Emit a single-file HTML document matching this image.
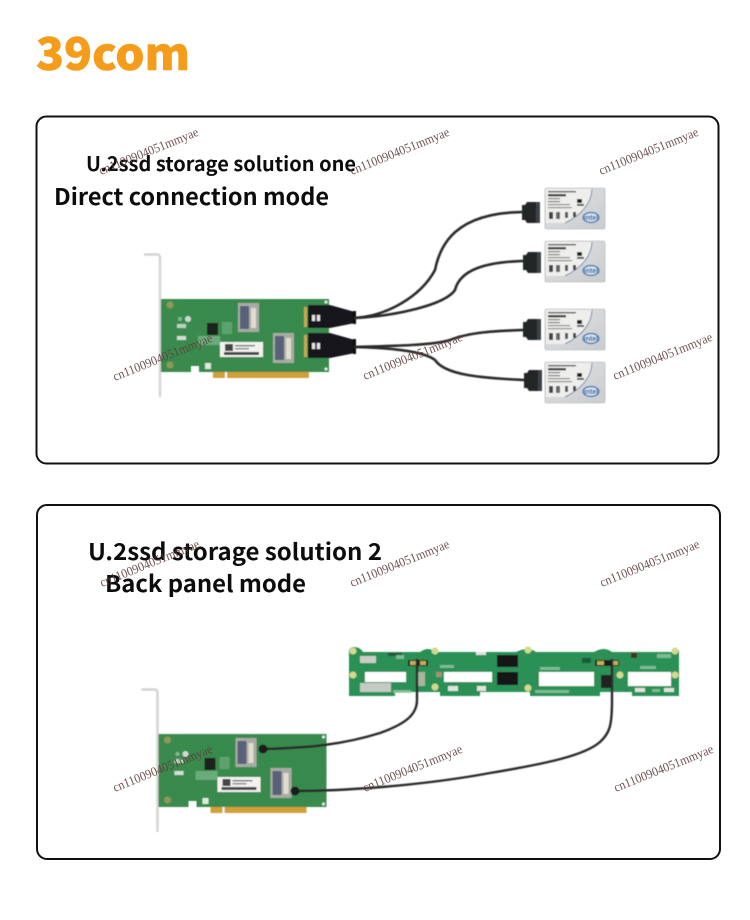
<!DOCTYPE html>
<html lang="en">
<head>
<meta charset="utf-8">
<title>39com U.2 SSD storage solutions</title>
<style>
html,body{margin:0;padding:0;background:#fff;width:750px;height:920px;overflow:hidden}
svg{display:block}
.h{font-family:"Noto Sans CJK SC","Liberation Sans",sans-serif;font-weight:700;fill:#0c0c0c}
.wm{font-family:"Liberation Serif",serif;font-size:13px;fill:#5f3f3f;opacity:.9}
.c{fill:none;stroke:#2a2a2a;stroke-linecap:round;stroke-linejoin:round}
</style>
</head>
<body>
<svg width="750" height="920" viewBox="0 0 750 920" xmlns="http://www.w3.org/2000/svg">
<defs>
<filter id="soft" x="-5%" y="-5%" width="110%" height="110%"><feGaussianBlur stdDeviation=".45"/></filter>
<pattern id="dots" width="2.4" height="2.4" patternUnits="userSpaceOnUse">
<rect width="2.4" height="2.4" fill="#3a8f50"/><circle cx="1.2" cy="1.2" r=".6" fill="#2c7642"/>
</pattern>
<linearGradient id="sil" x1="0" y1="0" x2="1" y2="1">
<stop offset="0" stop-color="#e2e3e4"/><stop offset="1" stop-color="#c9cbce"/>
</linearGradient>
<g id="card">
<path d="M144 254.500H158Q160 255 160 258V397" fill="none" stroke="#d2d4d4" stroke-width="2.400"/>
<path d="M161 299H329V372H199V366H191V372H161Z" fill="#3b8a4e"/>
<rect x="184" y="301" width="60" height="22" fill="url(#dots)"/>
<rect x="262" y="301" width="62" height="32" fill="url(#dots)"/>
<rect x="296" y="333" width="28" height="30" fill="url(#dots)"/>
<rect x="213" y="372" width="96" height="6" fill="#d29f38"/>
<rect x="225" y="372" width="2" height="6" fill="#fff"/>
<circle cx="170" cy="305" r="3.500" fill="#8d9a55"/><circle cx="170" cy="365" r="3.500" fill="#8d9a55"/>
<circle cx="188" cy="319" r="3" fill="#cfd8d2"/><circle cx="180" cy="319" r="2" fill="#7fb88f"/>
<rect x="177" y="324" width="9" height="4" fill="#b8d2bf"/><rect x="177" y="336" width="9" height="4" fill="#cfe0d2"/>
<rect x="205" y="363" width="6" height="6" fill="#dbe8dc"/>
<rect x="207" y="323" width="11" height="12" fill="#1a211d"/>
<rect x="198" y="336" width="22" height="9" fill="#7ab58a" opacity=".75"/>
<rect x="222" y="322" width="10" height="12" fill="#66a877" opacity=".8"/>
<rect x="238" y="303" width="21" height="29" fill="#a7aba3"/>
<rect x="240" y="306" width="9" height="23" fill="#59607a"/>
<rect x="251" y="308" width="5" height="20" fill="#e0dccf"/>
<rect x="273" y="333" width="21" height="30" fill="#a7aba3"/>
<rect x="275" y="336" width="9" height="24" fill="#59607a"/>
<rect x="286" y="338" width="5" height="21" fill="#e0dccf"/>
<rect x="220" y="342" width="43" height="15" fill="#f1f2ee"/>
<rect x="225" y="344" width="8" height="7" fill="#444"/>
<rect x="235" y="345" width="20" height="1.500" fill="#777"/><rect x="235" y="348" width="14" height="1.500" fill="#888"/>
<rect x="224" y="352" width="35" height="3" fill="#444"/>
<circle cx="326" cy="302" r="1.500" fill="#e6ede6"/><circle cx="326" cy="369" r="1.500" fill="#e6ede6"/>
</g>
<g id="ssd">
<rect width="60" height="41" rx="1.500" fill="url(#sil)" stroke="#aeb0b2" stroke-width=".6"/>
<path d="M1 1H47Q46 22 20 35H1Z" fill="#eeeeec"/>
<path d="M47 1Q46 22 20 35" fill="none" stroke="#557099" stroke-width=".8"/>
<rect x="3" y="3" width="28" height="1.400" fill="#555"/>
<rect x="3" y="6" width="18" height="2.400" fill="#444"/>
<rect x="3" y="10" width="12" height="1.200" fill="#777"/><rect x="3" y="13" width="12" height="1.200" fill="#777"/>
<rect x="3" y="16" width="22" height="1.200" fill="#888"/><rect x="3" y="19" width="24" height="1.200" fill="#888"/>
<rect x="4" y="24" width="4" height="7" fill="#444"/><rect x="11" y="24" width="4" height="7" fill="#666"/><rect x="20" y="24" width="3" height="6" fill="#555"/><rect x="28" y="24" width="3" height="5" fill="#444"/>
<rect x="32" y="11" width="5" height="4" fill="#222"/><rect x="32" y="16" width="7" height="1.800" fill="#444"/>
<ellipse cx="46" cy="29.500" rx="8" ry="5" fill="#d7e2ec" stroke="#2f6fae" stroke-width="1.200"/>
<text x="46" y="32" text-anchor="middle" font-family="Liberation Sans,sans-serif" font-size="7" font-weight="700" fill="#23619e">intel</text>
</g>
<g id="plug">
<path d="M0 3H3L5 0H15V21H5L3 18H0Z" fill="#232628"/>
<rect x="14" y="0" width="4" height="21" fill="#3c424a"/>
</g>
</defs>

<text x="36" y="70" class="h" style="fill:#f59c1b;font-weight:900;stroke:#f59c1b;stroke-width:.6" font-size="45" textLength="154" lengthAdjust="spacingAndGlyphs">39com</text>

<rect x="36.500" y="116.500" width="682" height="347" rx="10" fill="#fff" stroke="#111" stroke-width="2"/>
<rect x="37" y="505" width="683" height="354" rx="10" fill="#fff" stroke="#111" stroke-width="2"/>

<text x="86" y="171" class="h" font-size="20" textLength="270" lengthAdjust="spacingAndGlyphs">U.2ssd storage solution one</text>
<text x="54" y="205" class="h" font-size="23" textLength="275" lengthAdjust="spacingAndGlyphs">Direct connection mode</text>
<text x="88" y="560" class="h" font-size="23" textLength="294" lengthAdjust="spacingAndGlyphs">U.2ssd storage solution 2</text>
<text x="105" y="592" class="h" font-size="23" textLength="201" lengthAdjust="spacingAndGlyphs">Back panel mode</text>

<g filter="url(#soft)">
<use href="#card"/>
<rect x="304" y="307" width="3" height="20" fill="#c7a94f"/>
<rect x="304" y="335" width="3" height="22" fill="#c7a94f"/>
<path d="M308 305H330L355 312V323L330 328H308Z" fill="#16191a"/>
<path d="M308 333H330L355 340V353L330 358H308Z" fill="#16191a"/>
<rect x="312" y="315" width="8" height="6" fill="#e5e5e5"/><rect x="315" y="315" width="2" height="6" fill="#222"/>
<rect x="312" y="343" width="8" height="6" fill="#e5e5e5"/><rect x="315" y="343" width="2" height="6" fill="#222"/>
<rect x="353" y="311" width="3" height="13" fill="#111"/>
<rect x="353" y="339" width="3" height="15" fill="#111"/>

<g class="c" stroke-width="2.600">
<path d="M355 318C385 316 420 298 435 270C440 245 455 213 522 212"/>
<path d="M355 318C395 316 445 305 455 290C460 270 485 262 523 261"/>
<path d="M355 347C395 346 435 345 450 340C470 332 495 331 523 330"/>
<path d="M355 347C395 348 425 352 435 360C445 375 480 378 525 380"/>
</g>

<use href="#plug" x="522" y="202"/>
<use href="#plug" x="523" y="252"/>
<use href="#plug" x="523" y="319"/>
<use href="#plug" x="524" y="370"/>
<use href="#ssd" x="545" y="188"/>
<use href="#ssd" x="545" y="241"/>
<use href="#ssd" x="545" y="309"/>
<use href="#ssd" x="545" y="362"/>

<!-- backplane -->
<path d="M349 652Q349 647 354 647Q360 647 363 652H420Q428 646 436 652H516Q528 646 536 652H594Q604 646 612 652H672Q679 647 679 652V696H632V692H600V696H530V692H480V696H440V692H395V696H349Z" fill="#2b9056"/>
<g fill="#fff">
<rect x="365" y="672" width="41" height="10"/>
<rect x="444" y="672" width="48" height="10"/>
<rect x="539" y="672" width="55" height="14"/>
<rect x="628" y="672" width="43" height="14"/>
</g>
<rect x="497" y="655" width="21" height="12" fill="#141618"/>
<rect x="497" y="672" width="21" height="13" fill="#141618"/>
<rect x="601" y="675" width="11" height="13" fill="#222"/>
<rect x="360" y="656" width="16" height="7" fill="#c9cdc6"/>
<rect x="360" y="683" width="31" height="9" fill="#c5cac4"/>
<rect x="388" y="653" width="14" height="3" fill="#1d5a38"/>
<rect x="448" y="686" width="10" height="5" fill="#dfe3dd"/>
<rect x="477" y="686" width="9" height="5" fill="#dfe3dd"/>
<rect x="635" y="688" width="10" height="4" fill="#dfe3dd"/>
<rect x="664" y="688" width="10" height="4" fill="#dfe3dd"/>
<rect x="476" y="652" width="10" height="3" fill="#dfe3dd"/>
<rect x="582" y="658" width="9" height="5" fill="#1d5a38"/>
<rect x="631" y="653" width="6" height="5" fill="#4a3020"/>
<rect x="418" y="672" width="7" height="14" fill="#a9b59a"/>
<rect x="436" y="672" width="6" height="5" fill="#a58e74"/>
<g fill="#8fc7a3" opacity=".8">
<rect x="440" y="665" width="14" height="3"/><rect x="540" y="667" width="20" height="3"/><rect x="600" y="664" width="0" height="0"/>
<rect x="640" y="666" width="16" height="3"/><rect x="393" y="690" width="18" height="3"/><rect x="535" y="690" width="34" height="3"/>
<rect x="652" y="689" width="8" height="3"/><rect x="657" y="654" width="14" height="4"/><rect x="396" y="655" width="8" height="4"/>
</g>
<rect x="408" y="660" width="20" height="6" fill="#1a1a14"/>
<rect x="410" y="661" width="6" height="4" fill="#c9a85a"/><rect x="420" y="661" width="6" height="4" fill="#c9a85a"/>
<rect x="595" y="660" width="24" height="6" fill="#1a1a14"/>
<rect x="597" y="661" width="7" height="4" fill="#c9a85a"/><rect x="612" y="661" width="6" height="4" fill="#c9a85a"/>
<g fill="#d3d98f">
<circle cx="353" cy="651" r="3.500"/><circle cx="353" cy="675" r="3.500"/><circle cx="435" cy="651" r="3.500"/><circle cx="435" cy="687" r="3.500"/>
<circle cx="528" cy="650" r="3.500"/><circle cx="528" cy="688" r="3.500"/><circle cx="620" cy="675" r="3.500"/><circle cx="675" cy="651" r="3.500"/><circle cx="675" cy="675" r="3.500"/>
</g>

<use href="#card" transform="translate(-2.500 435)"/>

<g class="c" stroke-width="2.400">
<path d="M263 749C310 748 345 744 380 733C405 724 417 715 417 700V660" />
<path d="M295 791C340 791 420 786 490 773C550 763 585 755 600 742C610 733 612 725 612 700V660" />
</g>
<circle cx="263" cy="749" r="4.500" fill="#1d1d1d"/>
<circle cx="295" cy="791" r="4.500" fill="#1d1d1d"/>
</g>

<g class="wm">
<text transform="translate(101 175) rotate(-22)" textLength="106" lengthAdjust="spacingAndGlyphs">cn1100904051mmyae</text>
<text transform="translate(352 175) rotate(-22)" textLength="106" lengthAdjust="spacingAndGlyphs">cn1100904051mmyae</text>
<text transform="translate(601 175) rotate(-22)" textLength="106" lengthAdjust="spacingAndGlyphs">cn1100904051mmyae</text>
<text transform="translate(115 381) rotate(-22)" textLength="106" lengthAdjust="spacingAndGlyphs">cn1100904051mmyae</text>
<text transform="translate(365 380) rotate(-22)" textLength="106" lengthAdjust="spacingAndGlyphs">cn1100904051mmyae</text>
<text transform="translate(615 380) rotate(-22)" textLength="106" lengthAdjust="spacingAndGlyphs">cn1100904051mmyae</text>
<text transform="translate(102 587) rotate(-22)" textLength="106" lengthAdjust="spacingAndGlyphs">cn1100904051mmyae</text>
<text transform="translate(352 587) rotate(-22)" textLength="106" lengthAdjust="spacingAndGlyphs">cn1100904051mmyae</text>
<text transform="translate(602 587) rotate(-22)" textLength="106" lengthAdjust="spacingAndGlyphs">cn1100904051mmyae</text>
<text transform="translate(115 792) rotate(-22)" textLength="106" lengthAdjust="spacingAndGlyphs">cn1100904051mmyae</text>
<text transform="translate(365 792) rotate(-22)" textLength="106" lengthAdjust="spacingAndGlyphs">cn1100904051mmyae</text>
<text transform="translate(616 792) rotate(-22)" textLength="106" lengthAdjust="spacingAndGlyphs">cn1100904051mmyae</text>
</g>
</svg>
</body>
</html>
